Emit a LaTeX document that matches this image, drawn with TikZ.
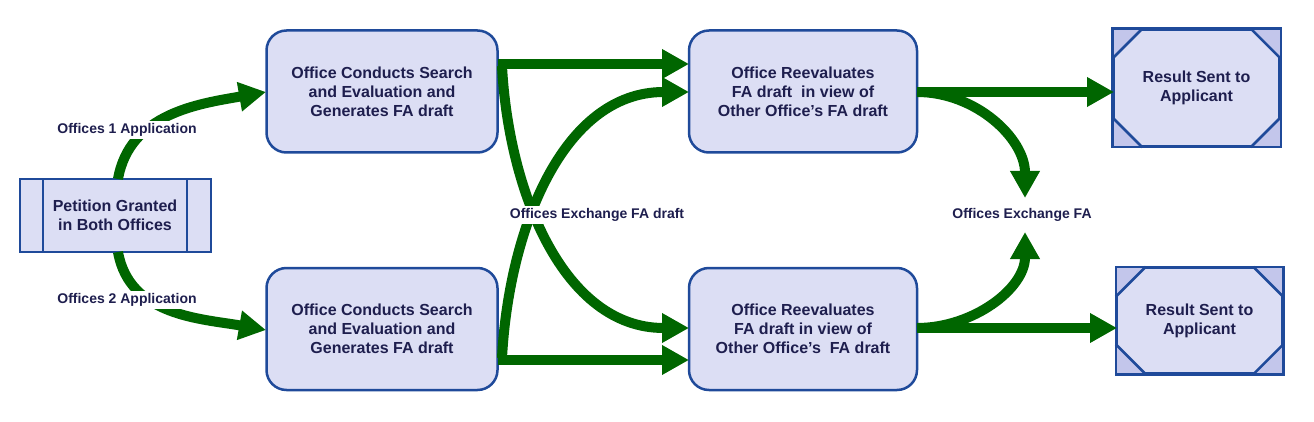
\documentclass[tikz,border=0pt]{standalone}
\usepackage{fontspec}
\setmainfont{Liberation Sans}
\usetikzlibrary{arrows.meta,calc}
\definecolor{boxfill}{HTML}{DCDEF4}
\definecolor{cornerfill}{HTML}{C3C6EB}
\definecolor{boxline}{HTML}{1F4A9A}
\definecolor{txt}{HTML}{1E1E4E}
\definecolor{arr}{HTML}{006600}
\begin{document}
\begin{tikzpicture}[x=1pt,y=-1pt,
  every node/.style={text=txt,font=\bfseries\fontsize{16}{19}\selectfont,align=center},
  rbox/.style={draw=boxline,fill=boxfill,line width=2.5pt,rounded corners=20pt,minimum width=231pt,minimum height=122pt,inner sep=0pt},
  pbox/.style={draw=boxline,fill=boxfill,line width=2.5pt,minimum width=191pt,minimum height=73pt,inner sep=0pt},
  resbox/.style={draw=boxline,fill=boxfill,line width=2.5pt,inner sep=0pt},
  cornertri/.style={fill=cornerfill},
  lbl/.style={fill=white,font=\bfseries\fontsize{14}{16}\selectfont,inner sep=2pt},
  flow/.style={draw=arr,line width=10pt,-{Triangle[length=27pt,width=28pt]}}]
\useasboundingbox (0,0) rectangle (1314,422);
% petition box
\node[pbox] (pet) at (115.5,215.5) {};
\draw[boxline,line width=2.5pt] (43,179) -- (43,252) (187,179) -- (187,252);
\node (pettext) at (115,215) {Petition Granted\\in Both Offices};
% search boxes
\node[rbox] (s1) at (382,91.5) {Office Conducts Search\\and Evaluation and\\Generates FA draft};
\node[rbox] (s2) at (382,329) {Office Conducts Search\\and Evaluation and\\Generates FA draft};
% reevaluate boxes
\node[rbox,minimum width=228pt] (r1) at (803,91.5) {Office Reevaluates\\FA draft\ \ in view of\\Other Office’s FA draft};
\node[rbox,minimum width=228pt] (r2) at (803,329) {Office Reevaluates\\FA draft in view of\\Other Office’s\ \ FA draft};
% result boxes
\foreach \n/\cx/\cy/\w/\h in {res1/1196.5/88/166/116, res2/1199.5/320.5/165/105}{
  \node[resbox,minimum width=\w pt,minimum height=\h pt] (\n) at (\cx,\cy) {};
  \fill[cornertri] (\n.north west) -- ++(30,0) -- ++(-30,30) -- cycle;
  \fill[cornertri] (\n.north east) -- ++(-30,0) -- ++(30,30) -- cycle;
  \fill[cornertri] (\n.south west) -- ++(30,0) -- ++(-30,-30) -- cycle;
  \fill[cornertri] (\n.south east) -- ++(-30,0) -- ++(30,-30) -- cycle;
  \draw[boxline,line width=2.5pt] ($(\n.north west)+(30,0)$) -- ++(-30,30)
     ($(\n.north east)+(-30,0)$) -- ++(30,30)
     ($(\n.south west)+(30,0)$) -- ++(-30,-30)
     ($(\n.south east)+(-30,0)$) -- ++(30,-30);
  \draw[boxline,line width=2.5pt] (\n.north west) rectangle (\n.south east);
}
\node (t1) at (res1) {Result Sent to\\Applicant};
\node (t2) at (res2) {Result Sent to\\Applicant};
% coordinates
\coordinate (p1) at (118,179);
\coordinate (p2) at (118,252);
\coordinate (s1a) at (266,92);
\coordinate (s2a) at (266,330);
\coordinate (s1o) at (498,64);
\coordinate (s2o) at (498,360);
\coordinate (x1) at (502,66);
\coordinate (x2) at (502,358);
\coordinate (r1a) at (689,64);
\coordinate (r1b) at (689,92);
\coordinate (r2a) at (689,328);
\coordinate (r2b) at (689,360);
\coordinate (r1o) at (917,92);
\coordinate (r2o) at (917,328);
\coordinate (res1a) at (1114,92);
\coordinate (res2a) at (1117,328);
\coordinate (m1) at (1025,198);
\coordinate (m2) at (1025,232);
% arrows
\draw[flow] (p1) to[out=80,in=190] (s1a);
\draw[flow] (p2) to[out=-80,in=170] (s2a);
\draw[flow] (s1o) -- (r1a);
\draw[flow] (s2o) -- (r2b);
\draw[flow] (x1) to[out=-87,in=180] (r2a);
\draw[flow] (x2) to[out=87,in=180] (r1b);
\draw[flow] (r1o) -- (res1a);
\draw[flow] (r2o) -- (res2a);
\draw[flow] (r1o) to[out=0,in=90] (m1);
\draw[flow] (r2o) to[out=0,in=-90] (m2);
% labels
\node[lbl] (l1) at (127,130) {Offices 1 Application};
\node[lbl] (l2) at (127,300) {Offices 2 Application};
\node[lbl] (l3) at (597,215) {Offices Exchange FA draft};
\node[lbl] (l4) at (1022,215) {Offices Exchange FA};
\end{tikzpicture}
\end{document}
